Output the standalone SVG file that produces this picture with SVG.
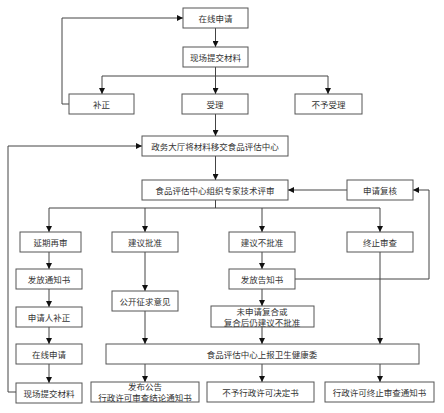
<svg xmlns="http://www.w3.org/2000/svg" width="444" height="413" viewBox="0 0 444 413">
<defs>
<marker id="ah" viewBox="0 0 10 10" refX="10" refY="5" markerWidth="6" markerHeight="6" orient="auto" markerUnits="userSpaceOnUse">
<path d="M0,0 L10,5 L0,10 z" fill="#111"/>
</marker>
<style>
rect{fill:#fff;stroke:#555;stroke-width:1}
text{font-family:"Noto Sans CJK SC","Liberation Sans",sans-serif;font-size:8.5px;fill:#333;text-anchor:middle;dominant-baseline:central}
.c path{fill:none;stroke:#444;stroke-width:1}
.c .a{marker-end:url(#ah)}
</style>
</defs>
<rect x="0" y="0" width="444" height="413" style="fill:#fff;stroke:none"/>
<g class="c">
<path class="a" d="M215.5,28 V47"/>
<path d="M102,76 H328"/>
<path d="M215.5,67 V76"/>
<path class="a" d="M102,76 V94"/>
<path class="a" d="M215.5,76 V94"/>
<path class="a" d="M328,76 V94"/>
<path class="a" d="M69,104 H62 V18 H183"/>
<path class="a" d="M215.5,114 V136"/>
<path class="a" d="M215.5,156 V180"/>
<path class="a" d="M347,190 H288"/>
<path class="a" d="M295,279 H429 V190 H413"/>
<path d="M49,208 H380"/>
<path d="M215.5,200 V208"/>
<path class="a" d="M49,208 V232"/>
<path class="a" d="M145,208 V232"/>
<path class="a" d="M262,208 V232"/>
<path class="a" d="M380,208 V232"/>
<path class="a" d="M49,252 V269"/>
<path class="a" d="M49,289 V307"/>
<path class="a" d="M49,327 V344"/>
<path class="a" d="M49,364 V383"/>
<path class="a" d="M16,392 H8 V146 H142"/>
<path class="a" d="M145,252 V291"/>
<path class="a" d="M145,311 V344"/>
<path class="a" d="M262,252 V269"/>
<path class="a" d="M262,289 V306"/>
<path class="a" d="M262,327 V344"/>
<path class="a" d="M380,252 V344"/>
<path class="a" d="M145,364 V382"/>
<path class="a" d="M262,364 V382"/>
<path class="a" d="M380,364 V382"/>
</g>
<g id="n1"><rect x="183" y="8" width="65" height="20"/><text x="215.5" y="18">在线申请</text></g>
<g id="n2"><rect x="183" y="47" width="65" height="20"/><text x="215.5" y="57">现场提交材料</text></g>
<g id="n3"><rect x="69" y="94" width="65" height="20"/><text x="101.5" y="104">补正</text></g>
<g id="n4"><rect x="182" y="94" width="66" height="20"/><text x="215" y="104">受理</text></g>
<g id="n5"><rect x="295" y="94" width="67" height="20"/><text x="328.5" y="104">不予受理</text></g>
<g id="n6"><rect x="142" y="136" width="146" height="20"/><text x="215" y="146">政务大厅将材料移交食品评估中心</text></g>
<g id="n7"><rect x="142" y="180" width="146" height="20"/><text x="215" y="190">食品评估中心组织专家技术评审</text></g>
<g id="n8"><rect x="347" y="180" width="66" height="20"/><text x="380" y="190">申请复核</text></g>
<g id="n9"><rect x="20" y="232" width="61" height="20"/><text x="50.5" y="242">延期再审</text></g>
<g id="n10"><rect x="112" y="232" width="66" height="20"/><text x="145" y="242">建议批准</text></g>
<g id="n11"><rect x="229" y="232" width="66" height="20"/><text x="262" y="242">建议不批准</text></g>
<g id="n12"><rect x="347" y="232" width="66" height="20"/><text x="380" y="242">终止审查</text></g>
<g id="n13"><rect x="16" y="269" width="66" height="20"/><text x="49" y="279">发放通知书</text></g>
<g id="n14"><rect x="16" y="307" width="66" height="20"/><text x="49" y="317">申请人补正</text></g>
<g id="n15"><rect x="16" y="344" width="66" height="20"/><text x="49" y="354">在线申请</text></g>
<g id="n16"><rect x="16" y="383" width="66" height="20"/><text x="49" y="393">现场提交材料</text></g>
<g id="n17"><rect x="112" y="291" width="66" height="20"/><text x="145" y="301">公开征求意见</text></g>
<g id="n18"><rect x="229" y="269" width="66" height="20"/><text x="262" y="279">发放告知书</text></g>
<g id="n19"><rect x="211" y="306" width="103" height="21"/><text x="262" y="311">未申请复合或</text><text x="262" y="322">复合后仍建议不批准</text></g>
<g id="n20"><rect x="106" y="344" width="313" height="20"/><text x="262" y="354">食品评估中心上报卫生健康委</text></g>
<g id="n21"><rect x="91" y="382" width="108" height="20"/><text x="145" y="386">发布公告</text><text x="145" y="397">行政许可审查结论通知书</text></g>
<g id="n22"><rect x="207" y="382" width="107" height="20"/><text x="260.5" y="392">不予行政许可决定书</text></g>
<g id="n23"><rect x="325" y="382" width="109" height="20"/><text x="379.5" y="392">行政许可终止审查通知书</text></g>
</svg>
